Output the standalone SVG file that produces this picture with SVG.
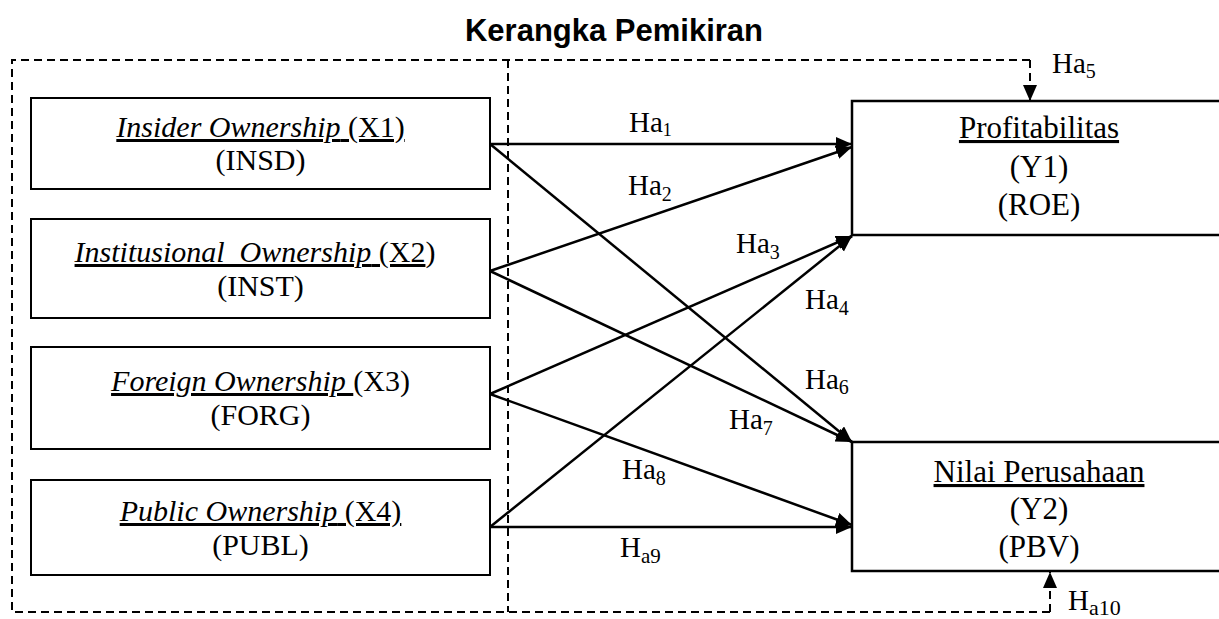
<svg xmlns="http://www.w3.org/2000/svg" width="1219" height="619" viewBox="0 0 1219 619">
<style>
.bg{fill:#fff}
.lbox{fill:#fff;stroke:#000;stroke-width:2}
.rbox{fill:#fff;stroke:#000;stroke-width:2.5}
.t{font-family:"Liberation Serif","Times New Roman",serif;font-size:30px;fill:#000}
.tr{font-family:"Liberation Serif","Times New Roman",serif;font-size:31px;fill:#000}
.it{font-style:italic}
.u{text-decoration:underline}
.lab{font-family:"Liberation Serif","Times New Roman",serif;font-size:29px;fill:#000}
.title{font-family:"Liberation Sans",Arial,sans-serif;font-size:31px;font-weight:bold;fill:#000}
.dash{fill:none;stroke:#000;stroke-width:2;stroke-dasharray:8 5}
.conn{fill:none;stroke:#000;stroke-width:2.5}
</style>
<defs>
<marker id="ah" markerUnits="userSpaceOnUse" markerWidth="17" markerHeight="15" refX="16" refY="7" orient="auto">
<path d="M0,0 L16,7 L0,14 z" fill="#000"/>
</marker>
</defs>
<rect class="bg" x="0" y="0" width="1219" height="619"/>
<text id="title" class="title" x="614" y="40.5" text-anchor="middle">Kerangka Pemikiran</text>

<g id="frame">
<path class="dash" d="M1030,60 H12 V612 H1050"/>
<line class="dash" x1="508" y1="60" x2="508" y2="612"/>
</g>

<g id="x1">
<rect class="lbox" x="31" y="98" width="459" height="91"/>
<text class="t" x="260.5" y="137" text-anchor="middle"><tspan class="u"><tspan class="it">Insider Ownership</tspan> (X1)</tspan></text>
<text class="t" x="260.5" y="170" text-anchor="middle">(INSD)</text>
</g>
<g id="x2">
<rect class="lbox" x="31" y="219" width="459" height="99"/>
<text class="t" x="255" y="262" text-anchor="middle" xml:space="preserve"><tspan class="u"><tspan class="it">Institusional  Ownership</tspan> (X2</tspan>)</text>
<text class="t" x="260.5" y="296" text-anchor="middle">(INST)</text>
</g>
<g id="x3">
<rect class="lbox" x="31" y="347" width="459" height="102"/>
<text class="t" x="260.5" y="391" text-anchor="middle" xml:space="preserve"><tspan class="u it">Foreign Ownership </tspan>(X3)</text>
<text class="t" x="260.5" y="425" text-anchor="middle">(FORG)</text>
</g>
<g id="x4">
<rect class="lbox" x="31" y="480" width="459" height="95"/>
<text class="t" x="260.5" y="521" text-anchor="middle"><tspan class="u"><tspan class="it">Public Ownership</tspan> (X4)</tspan></text>
<text class="t" x="260.5" y="555" text-anchor="middle">(PUBL)</text>
</g>

<g id="y1">
<rect class="rbox" x="852" y="101" width="380" height="134"/>
<text class="tr" x="1039" y="138" text-anchor="middle"><tspan class="u">Profitabilitas</tspan></text>
<text class="tr" x="1039" y="177" text-anchor="middle">(Y1)</text>
<text class="tr" x="1039" y="215" text-anchor="middle">(ROE)</text>
</g>
<g id="y2">
<rect class="rbox" x="852" y="442" width="380" height="129"/>
<text class="tr" x="1039" y="482" text-anchor="middle"><tspan class="u">Nilai Perusahaan</tspan></text>
<text class="tr" x="1039" y="519" text-anchor="middle">(Y2)</text>
<text class="tr" x="1039" y="557" text-anchor="middle">(PBV)</text>
</g>

<g id="connectors">
<line class="conn" x1="490" y1="144" x2="852" y2="144" marker-end="url(#ah)"/>
<line class="conn" x1="490" y1="271" x2="852" y2="147" marker-end="url(#ah)"/>
<line class="conn" x1="490" y1="394" x2="852" y2="236" marker-end="url(#ah)"/>
<line class="conn" x1="490" y1="527" x2="852" y2="236" marker-end="url(#ah)"/>
<line class="conn" x1="490" y1="144" x2="852" y2="442" marker-end="url(#ah)"/>
<line class="conn" x1="490" y1="271" x2="852" y2="442" marker-end="url(#ah)"/>
<line class="conn" x1="490" y1="394" x2="852" y2="525" marker-end="url(#ah)"/>
<line class="conn" x1="490" y1="527" x2="852" y2="527" marker-end="url(#ah)"/>
<line class="dash" x1="1030" y1="60" x2="1030" y2="101" marker-end="url(#ah)"/>
<line class="dash" x1="1050" y1="612" x2="1050" y2="572" marker-end="url(#ah)"/>
</g>

<g id="labels">
<text class="lab" x="629" y="132">Ha<tspan font-size="18" dy="4">1</tspan></text>
<text class="lab" x="628" y="195">Ha<tspan font-size="20" dy="6">2</tspan></text>
<text class="lab" x="736" y="253">Ha<tspan font-size="20" dy="6">3</tspan></text>
<text class="lab" x="805" y="309">Ha<tspan font-size="20" dy="6">4</tspan></text>
<text class="lab" x="1052" y="73">Ha<tspan font-size="20" dy="5">5</tspan></text>
<text class="lab" x="805" y="389">Ha<tspan font-size="20" dy="5">6</tspan></text>
<text class="lab" x="729" y="429">Ha<tspan font-size="20" dy="6">7</tspan></text>
<text class="lab" x="622" y="479">Ha<tspan font-size="20" dy="6">8</tspan></text>
<text class="lab" x="620" y="557">H<tspan font-size="21" dy="6">a9</tspan></text>
<text class="lab" x="1068" y="610">H<tspan font-size="22" dy="5">a10</tspan></text>
</g>
</svg>
